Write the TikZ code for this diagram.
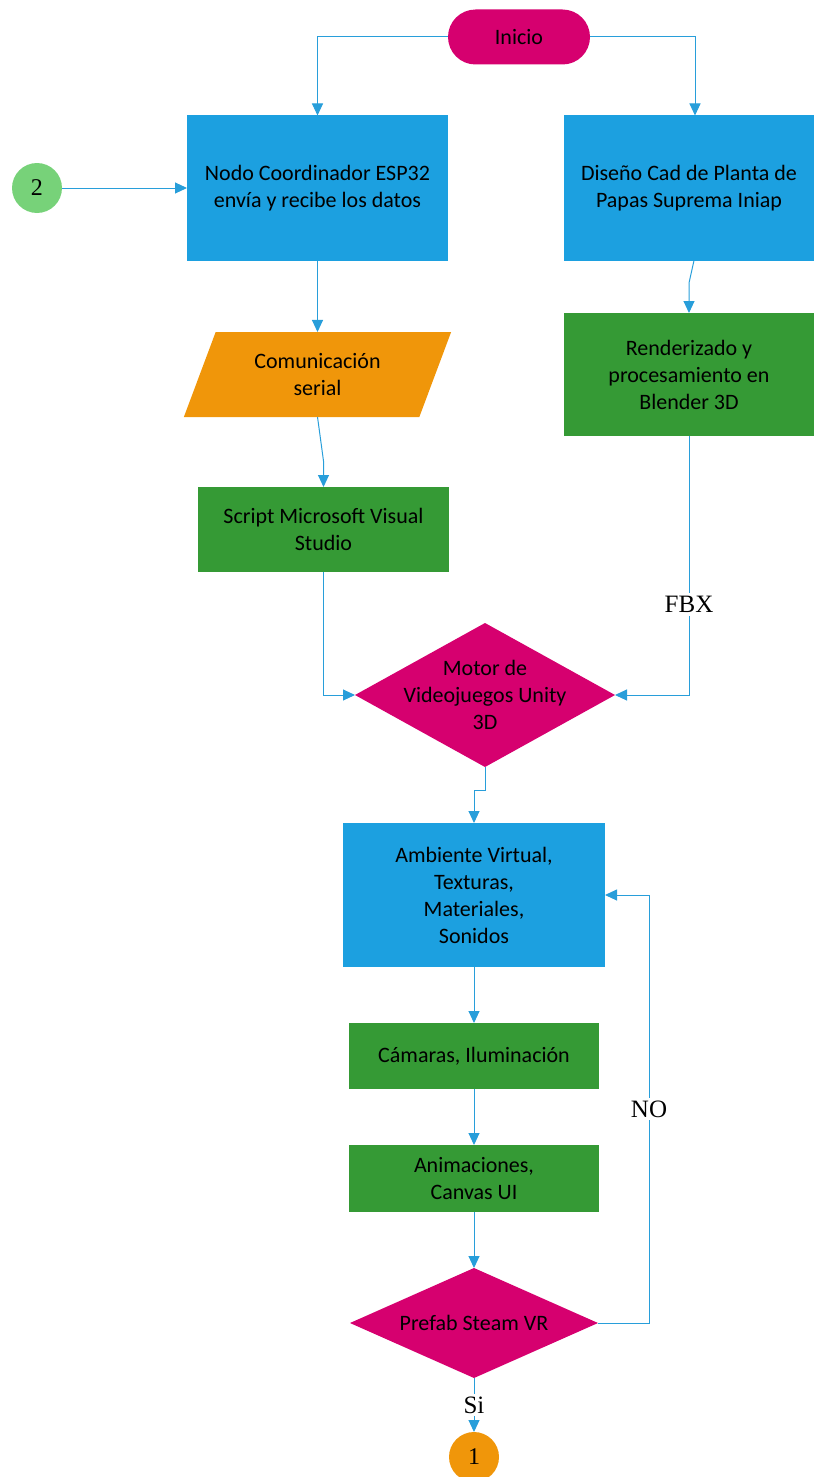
\documentclass[tikz,border=0pt]{standalone}
\usepackage{fontspec}
\setmainfont{Carlito}
\newfontfamily\labelfont{Liberation Serif}
\usepackage{tikz}
\usetikzlibrary{arrows.meta,shapes.geometric}
\definecolor{Proceso}{RGB}{28, 160, 224}
\definecolor{Inicio}{RGB}{214, 0, 111}
\definecolor{Software}{RGB}{53, 154, 53}
\definecolor{Entrada}{RGB}{240, 150, 10}
\definecolor{Enlace}{RGB}{119, 210, 121}
\definecolor{Flecha}{RGB}{40, 158, 218}

\begin{document}
\begin{tikzpicture}[x=0.5pt, y=-0.5pt,
    caja/.style={rectangle, inner sep=0pt, outer sep=0pt, align=center,
        font=\fontsize{11}{13.5}\selectfont},
    rombo/.style={diamond, fill=Inicio, inner sep=0pt, outer sep=0pt},
    conector/.style={circle, inner sep=0pt, outer sep=0pt, minimum size=25pt,
        font=\labelfont\fontsize{12}{14}\selectfont},
    flujo/.style={draw=Flecha, line width=0.5pt, -{Triangle[width=5.5pt,length=6pt]}},
    rotulo/.style={fill=white, inner sep=1.5pt, font=\labelfont\fontsize{12.5}{14}\selectfont}]
    %%Background
    \useasboundingbox (0,0) rectangle (814,1477);

    %% Nodes
    \node[caja, fill=Inicio, rounded corners=13.75pt, minimum width=71pt, minimum height=27.5pt]
        (inicio) at (519,37) {Inicio};
    \node[caja, fill=Proceso, minimum width=130.5pt, minimum height=72.5pt]
        (nodo) at (317.5,188) {Nodo Coordinador ESP32\\envía y recibe los datos};
    \node[caja, fill=Proceso, minimum width=125pt, minimum height=72.5pt]
        (diseno) at (689,188) {Diseño Cad de Planta de\\Papas Suprema Iniap};
    \node[conector, fill=Enlace] (dos) at (37,188) {2};
    \node[caja, trapezium, trapezium left angle=65, trapezium right angle=115,
        trapezium stretches=true, fill=Entrada, minimum width=134.5pt, minimum height=42.5pt]
        (serial) at (317.5,374.5) {Comunicación\\serial};
    \node[caja, fill=Software, minimum width=125.5pt, minimum height=42.5pt]
        (script) at (323.5,529.5) {Script Microsoft Visual\\Studio};
    \node[caja, fill=Software, minimum width=125pt, minimum height=61.5pt]
        (render) at (689,374.5) {Renderizado y\\procesamiento en\\Blender 3D};
    \node[rombo, minimum width=130pt, minimum height=72pt,
        label={[caja]center:Motor de\\Videojuegos Unity\\3D}]
        (motor) at (485,695) {};
    \node[caja, fill=Proceso, minimum width=131pt, minimum height=72pt]
        (ambiente) at (474,895) {Ambiente Virtual,\\Texturas,\\Materiales,\\Sonidos};
    \node[caja, fill=Software, minimum width=125pt, minimum height=33pt]
        (camaras) at (474,1056) {Cámaras, Iluminación};
    \node[caja, fill=Software, minimum width=125pt, minimum height=33.5pt]
        (animacion) at (474,1178.5) {Animaciones,\\Canvas UI};
    \node[rombo, minimum width=124pt, minimum height=55pt,
        label={[caja]center:Prefab Steam VR}]
        (prefab) at (474,1323) {};
    \node[conector, fill=Entrada] (uno) at (474,1457) {1};

    %% Arrows
    \draw[flujo] (inicio.west) -| (nodo.north);
    \draw[flujo] (inicio.east) -| ([xshift=3pt]diseno.north);
    \draw[flujo] (dos.east) -- (nodo.west);
    \draw[flujo] (nodo.south) -- (nodo.south |- serial.north);
    \draw[flujo] (serial.south) -- ([yshift=13pt]script.north) -- (script.north);
    \draw[flujo] (script.south) |- (motor.west);
    \draw[flujo] ([xshift=2.5pt]diseno.south) -- ([yshift=15pt]render.north) -- (render.north);
    \draw[flujo] (render.south) |- node[rotulo, pos=0.325]{FBX} (motor.east);
    \draw[flujo] (motor.south) -- ++(0,23) -| (ambiente.north);
    \draw[flujo] (ambiente.south) -- (camaras.north);
    \draw[flujo] (camaras.south) -- (animacion.north);
    \draw[flujo] (animacion.south) -- (prefab.north);
    \draw[flujo] (prefab.east) -- ++(51,0) |- node[rotulo, pos=0.25]{NO} (ambiente.east);
    \draw[flujo] (prefab.south) -- node[rotulo]{Si} (uno.north);

\end{tikzpicture}
\end{document}
